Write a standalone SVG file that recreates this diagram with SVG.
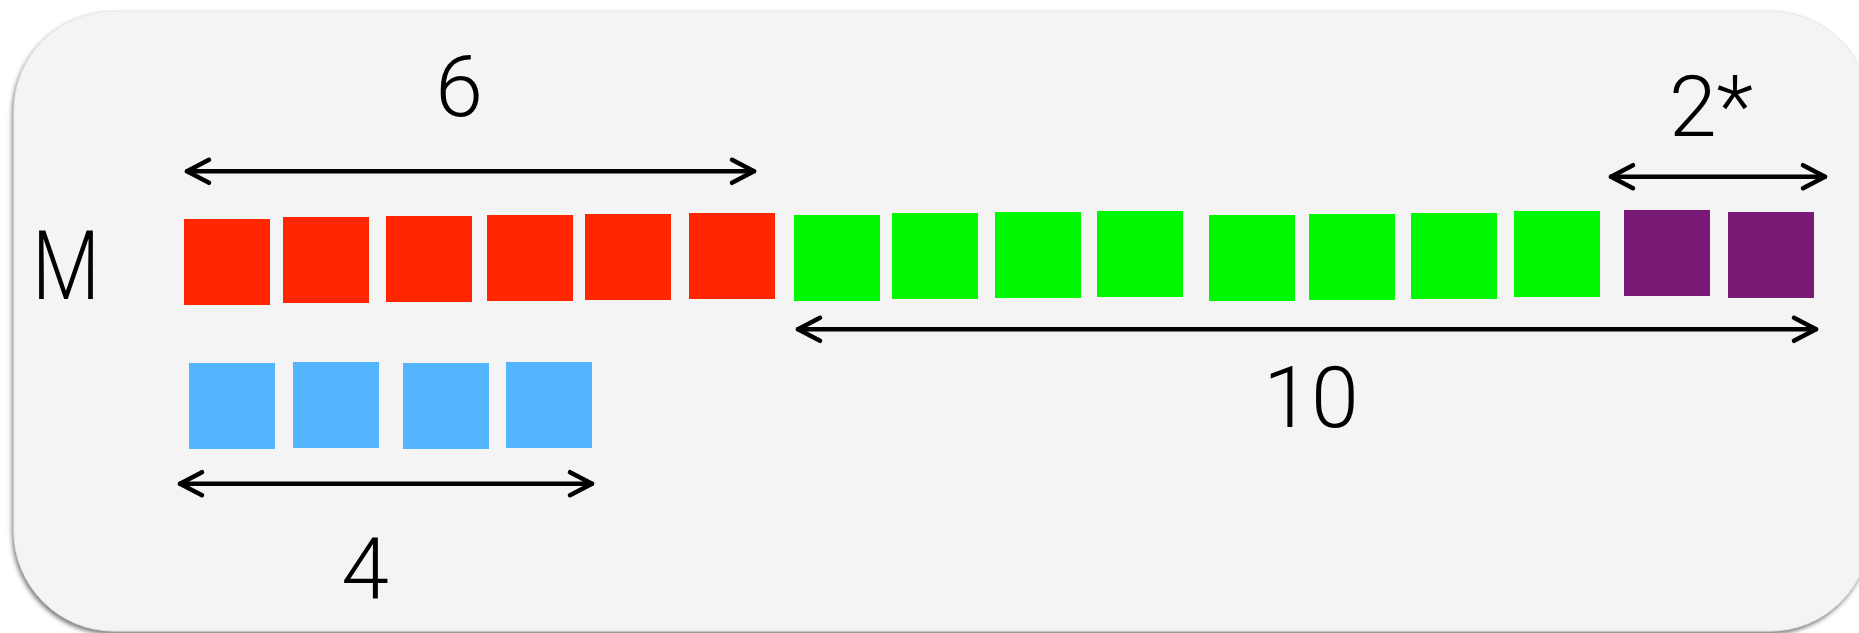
<svg xmlns="http://www.w3.org/2000/svg" width="1859" height="633" viewBox="0 0 1859 633">
<style>
.lbl{font-family:Roboto,"Liberation Sans",sans-serif;font-weight:300;fill:#000;text-anchor:middle}
.dim{fill:none;stroke:#000;stroke-width:4.5;stroke-linecap:round}
.red{fill:#ff2600}
.green{fill:#00f900}
.purple{fill:#7a1a77}
.blue{fill:#53b5fd}
</style>
<defs>
<filter id="sh" x="-5%" y="-5%" width="110%" height="115%">
<feDropShadow dx="-1.5" dy="3" stdDeviation="2" flood-color="#555" flood-opacity="0.75"/>
</filter>
<marker id="chev" viewBox="-30 -16 34 32" markerWidth="34" markerHeight="32" refX="0" refY="0" orient="auto-start-reverse" markerUnits="userSpaceOnUse">
<path d="M-22,-11.5 L0,0 L-22,11.5" fill="none" stroke="#000" stroke-width="4.5" stroke-linecap="round" stroke-linejoin="round"/>
</marker>
</defs>
<rect width="1859" height="633" fill="#ffffff"/>
<rect id="panel" x="14" y="11" width="1856" height="620" rx="100" ry="100" fill="#f4f4f4" stroke="#e6e6e6" stroke-width="1" filter="url(#sh)"/>

<g id="label-M"><text class="lbl" x="66" y="299" font-size="96" textLength="68" lengthAdjust="spacingAndGlyphs">M</text></g>

<g id="red-blocks">
<rect class="red" x="184" y="219" width="86" height="86"/>
<rect class="red" x="283" y="217" width="86" height="86"/>
<rect class="red" x="386" y="216" width="86" height="86"/>
<rect class="red" x="487" y="215" width="86" height="86"/>
<rect class="red" x="585" y="214" width="86" height="86"/>
<rect class="red" x="689" y="213" width="86" height="86"/>
</g>

<g id="green-blocks">
<rect class="green" x="794" y="215" width="86" height="86"/>
<rect class="green" x="892" y="213" width="86" height="86"/>
<rect class="green" x="995" y="212" width="86" height="86"/>
<rect class="green" x="1097" y="211" width="86" height="86"/>
<rect class="green" x="1209" y="215" width="86" height="86"/>
<rect class="green" x="1309" y="214" width="86" height="86"/>
<rect class="green" x="1411" y="213" width="86" height="86"/>
<rect class="green" x="1514" y="211" width="86" height="86"/>
</g>

<g id="purple-blocks">
<rect class="purple" x="1624" y="210" width="86" height="86"/>
<rect class="purple" x="1728" y="212" width="86" height="86"/>
</g>

<g id="blue-blocks">
<rect class="blue" x="189" y="363" width="86" height="86"/>
<rect class="blue" x="293" y="362" width="86" height="86"/>
<rect class="blue" x="403" y="363" width="86" height="86"/>
<rect class="blue" x="506" y="362" width="86" height="86"/>
</g>

<g id="connectors">
<line class="dim" x1="187" y1="171.3" x2="754" y2="171.3" marker-start="url(#chev)" marker-end="url(#chev)"/>
<line class="dim" x1="1611" y1="176.7" x2="1825" y2="176.7" marker-start="url(#chev)" marker-end="url(#chev)"/>
<line class="dim" x1="798" y1="329.3" x2="1816" y2="329.3" marker-start="url(#chev)" marker-end="url(#chev)"/>
<line class="dim" x1="180" y1="483.7" x2="592" y2="483.7" marker-start="url(#chev)" marker-end="url(#chev)"/>
</g>

<g id="label-6"><text class="lbl" x="459" y="116" font-size="86">6</text></g>
<g id="label-2star"><text class="lbl" x="1711" y="136" font-size="86">2*</text></g>
<g id="label-10"><text class="lbl" x="1311" y="427" font-size="86">10</text></g>
<g id="label-4"><text class="lbl" x="365" y="598" font-size="86">4</text></g>
</svg>
